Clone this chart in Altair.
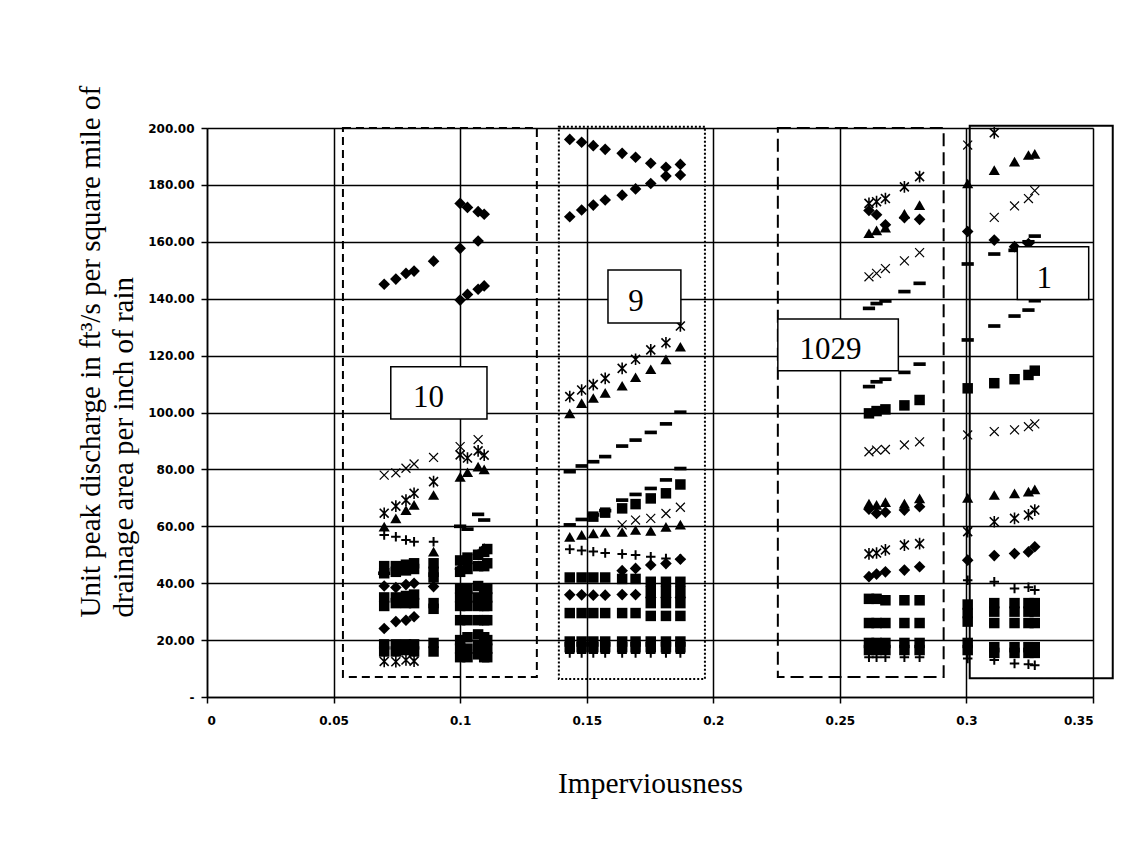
import altair as alt
import pandas as pd

# imperviousness positions of the sub-basin runs in each group
X10 = [0.07, 0.0746, 0.0786, 0.0818, 0.0895, 0.1, 0.1029, 0.1071, 0.1095, 0.1107]
X9 = [0.1433, 0.148, 0.1526, 0.1573, 0.164, 0.1693, 0.1753, 0.1813, 0.187]
X1029 = [0.2615, 0.2645, 0.268, 0.2755, 0.2815]
X1 = [0.3005, 0.311, 0.319, 0.3245, 0.327]

diamond_rows = [
    (X10[:6] + [X10[7]], [145.1, 146.9, 148.9, 149.7, 153.2, 157.7, 160.3]),
    (X10[5:9], [173.5, 172.1, 170.6, 169.7]),
    (X10[5:9], [139.5, 141.5, 143.3, 144.5]),
    (X10[:4], [24.1, 26.5, 27.0, 28.2]),
    (X10[:9], [39.0, 38.5, 39.5, 40.0, 38.8, 45.0, 47.0, 50.0, 52.0]),
    (X9, [196.0, 195.0, 193.8, 192.5, 191.1, 189.7, 187.6, 186.2, 187.2]),
    (X9, [168.8, 171.2, 172.9, 174.7, 176.4, 178.6, 180.5, 183.1, 183.5]),
    (X9[4:], [44.4, 45.2, 46.4, 46.9, 48.4]),
    (X9, [35.9, 35.9, 35.8, 35.8, 36.0, 36.0, 35.0, 35.0, 35.0]),
    (X1029, [171.0, 169.5, 166.0, 168.5, 167.9]),
    (X1029, [66.0, 64.5, 65.0, 65.7, 66.9]),
    (X1029, [42.3, 43.2, 44.0, 44.6, 45.8]),
    (X1[:4], [163.6, 160.6, 158.3, 159.4]),
    (X1, [48.1, 49.7, 50.4, 51.0, 52.8]),
]

square_rows = [
    (X10[:4], [46.0, 46.0, 46.5, 47.0]),
    (X10[:4], [43.5, 44.0, 44.5, 45.0]),
    (X10[:4], [35.0, 35.0, 35.5, 36.0]),
    (X10[:4], [32.0, 33.0, 33.0, 33.0]),
    (X10[:4], [18.5, 18.5, 18.5, 18.5]),
    (X10[:4], [16.0, 16.0, 16.5, 16.0]),
    ([X10[4]] * 7, [47.0, 44.0, 42.0, 33.0, 31.0, 19.0, 16.0]),
    (X10[5:], [48.0, 49.0, 50.0, 51.0, 52.0]),
    (X10[5:], [44.0, 45.0, 46.0, 46.0, 47.0]),
    (X10[5:], [38.0, 38.0, 39.0, 38.0, 38.0]),
    (X10[5:], [35.0, 35.0, 35.0, 35.0, 35.0]),
    (X10[5:], [32.0, 32.0, 32.0, 32.0, 32.0]),
    (X10[5:], [27.0, 27.0, 27.0, 27.0, 27.0]),
    (X10[5:], [20.0, 21.0, 22.0, 21.0, 20.0]),
    (X10[5:], [17.0, 17.0, 18.0, 17.0, 17.0]),
    (X10[5:], [14.0, 14.0, 15.0, 14.0, 14.0]),
    (X9[2:], [63.4, 64.8, 66.3, 67.8, 69.8, 71.6, 74.7]),
    (X9, [42.0, 42.0, 42.0, 42.0, 41.5, 41.5, 40.5, 40.5, 40.5]),
    (X9[6:], [37.0, 37.0, 37.0]),
    (X9[6:], [33.0, 33.0, 33.0]),
    (X9, [29.5, 29.5, 29.5, 29.5, 29.5, 29.5, 28.5, 28.5, 28.5]),
    (X9, [19.5, 19.5, 19.5, 19.5, 19.5, 19.5, 19.5, 19.5, 19.5]),
    (X9, [17.5, 17.5, 17.5, 17.5, 17.5, 17.5, 17.5, 17.5, 17.5]),
    (X1029, [99.7, 100.5, 101.1, 102.5, 104.4]),
    (X1029, [34.5, 34.5, 34.0, 34.0, 34.0]),
    (X1029, [26.0, 26.0, 26.0, 26.0, 26.0]),
    (X1029, [19.0, 19.0, 19.0, 19.0, 19.0]),
    (X1029, [16.5, 16.5, 16.5, 16.5, 16.5]),
    (X1, [108.5, 110.3, 111.7, 113.2, 114.7]),
    (X1, [32.5, 33.0, 33.0, 33.0, 33.0]),
    (X1, [29.5, 30.0, 30.0, 30.0, 30.0]),
    (X1, [26.5, 26.0, 26.0, 26.0, 26.0]),
    (X1, [19.0, 17.5, 17.5, 17.5, 17.5]),
    (X1, [16.5, 15.5, 15.5, 15.5, 15.5]),
]

triangle_rows = [
    (X10[:9], [59.9, 62.8, 65.7, 67.5, 71.0, 77.4, 79.0, 81.0, 80.0]),
    ([X10[4]], [51.1]),
    (X9, [99.7, 103.3, 105.1, 106.9, 109.4, 112.4, 115.2, 118.7, 123.1]),
    (X9, [56.3, 57.0, 57.5, 58.0, 58.0, 58.7, 58.4, 59.8, 60.6]),
    (X1029, [163.0, 164.0, 165.0, 169.8, 172.9]),
    (X1029, [68.0, 67.5, 68.5, 68.0, 69.8]),
    (X1, [180.5, 185.2, 188.2, 190.5, 190.9]),
    (X1, [70.0, 71.0, 71.6, 72.2, 73.0]),
]

cross_rows = [
    (X10[:6] + [X10[7]], [78.0, 78.8, 80.4, 81.9, 84.2, 88.0, 90.5]),
    (X9[4:], [60.5, 62.2, 62.8, 64.5, 66.7]),
    (X1029, [147.7, 148.9, 150.6, 153.3, 156.2]),
    (X1029, [86.2, 86.8, 87.0, 88.6, 89.7]),
    (X1, [194.0, 168.6, 172.6, 175.2, 178.0]),
    (X1, [92.1, 93.3, 93.9, 95.0, 96.0]),
]

star_rows = [
    (X10[:9], [64.6, 67.1, 69.2, 71.6, 75.7, 85.1, 84.0, 86.5, 85.0]),
    (X10[:4], [12.5, 12.4, 13.0, 12.6]),
    (X9, [105.6, 107.9, 109.8, 112.0, 115.5, 118.7, 122.0, 124.5, 130.4]),
    (X1029, [173.5, 174.1, 175.2, 179.3, 182.9]),
    (X1029, [50.3, 50.6, 51.7, 53.4, 53.9]),
    ([X1[1]], [198.3]),
    (X1, [58.1, 61.6, 62.8, 64.0, 65.7]),
]

plus_rows = [
    (X10[:5], [56.9, 56.3, 55.2, 54.6, 54.6]),
    (X9, [51.9, 51.5, 51.1, 50.6, 50.3, 49.9, 49.3, 48.7, 48.5]),
    (X9, [15.5, 15.5, 15.5, 15.5, 15.5, 15.5, 15.5, 15.5, 15.5]),
    (X1029, [14.0, 14.0, 14.0, 14.0, 14.0]),
    (X1, [41.0, 40.5, 38.1, 38.6, 37.6]),
    (X1, [13.5, 13.0, 11.8, 11.5, 11.2]),
]

dash_rows = [
    ([X10[0]], [43.5]),
    (X10[5:9], [60.0, 59.0, 64.2, 62.2]),
    (X9, [79.2, 81.2, 82.7, 84.5, 88.2, 90.3, 93.0, 96.0, 100.1]),
    (X9, [60.5, 62.4, 64.0, 65.5, 69.2, 71.2, 73.3, 76.3, 80.3]),
    (X1029, [136.6, 138.3, 139.2, 142.5, 145.4]),
    (X1029, [109.1, 110.8, 111.7, 114.1, 117.0]),
    (X1, [152.2, 155.7, 157.0, 160.0, 162.0]),
    (X1, [125.5, 130.4, 133.9, 136.0, 139.3]),
]

# group outline boxes
BOX_X1 = [0.0537, 0.139, 0.2255, 0.3013]
BOX_X2 = [0.1303, 0.1967, 0.291, 0.3578]
BOX_Y1 = [7.0, 6.3, 7.0, 6.6]
BOX_Y2 = [200.0, 200.4, 200.0, 200.8]
BOX_DASH = [[8, 5], [2, 2], [13, 6], [1, 0]]

# group label boxes
LABEL_TEXT = ["10", "9", "1029", "1"]
LABEL_X1 = [0.0726, 0.1584, 0.2255, 0.3201]
LABEL_X2 = [0.1106, 0.1872, 0.2731, 0.3483]
LABEL_Y1 = [97.7, 131.5, 114.7, 139.7]
LABEL_Y2 = [116.1, 150.1, 132.9, 158.3]
LABEL_TX = [0.0875, 0.1695, 0.2463, 0.3307]
LABEL_TY = [105.0, 138.9, 122.0, 147.1]

X_TICKS = [0, 0.05, 0.1, 0.15, 0.2, 0.25, 0.3, 0.35]
Y_TICKS = [0, 20, 40, 60, 80, 100, 120, 140, 160, 180, 200]

marker_rows = {
    "diamond": diamond_rows,
    "square": square_rows,
    "triangle": triangle_rows,
    "cross": cross_rows,
    "star": star_rows,
    "plus": plus_rows,
    "dash": dash_rows,
}
records = []
for name, rows in marker_rows.items():
    for xs, ys in rows:
        for xv, yv in zip(xs, ys):
            records.append({"x": xv, "y": yv, "marker": name})
df = pd.DataFrame(records)

xscale = alt.Scale(domain=[0, 0.35], nice=False, zero=False)
yscale = alt.Scale(domain=[0, 200], nice=False)

xaxis = alt.Axis(
    values=X_TICKS, format="~g", title="Imperviousness",
    titleFont="Liberation Serif", titleFontSize=29.5, titleFontWeight="normal",
    titleColor="black", titleY=86, titleBaseline="middle",
    labelFont="DejaVu Sans", labelFontWeight="bold", labelFontSize=12,
    labelColor="black", labelPadding=12, tickSize=6, tickColor="black",
    tickWidth=1.5, domainColor="black", domainWidth=1.5, grid=True,
    gridColor="black", gridWidth=1.5, gridOpacity=1,
)
yaxis = alt.Axis(
    values=Y_TICKS, labelExpr="datum.value == 0 ? '-' : format(datum.value, '.2f')",
    title=["Unit peak discharge in ft³/s per square mile of",
           "drainage area per inch of rain"],
    titleFont="Liberation Serif", titleFontSize=29, titleFontWeight="normal",
    titleColor="black", titleX=-117, titleY=489, titleAngle=-90,
    titleAlign="left", titleBaseline="middle", titleLineHeight=33,
    labelFont="DejaVu Sans", labelFontWeight="bold", labelFontSize=12,
    labelColor="black", labelPadding=7, tickSize=6, tickColor="black",
    tickWidth=1.5, domainColor="black", domainWidth=1.5, grid=True,
    gridColor="black", gridWidth=1.5, gridOpacity=1,
)

X = alt.X("x:Q", scale=xscale, axis=xaxis)
Y = alt.Y("y:Q", scale=yscale, axis=yaxis)

base = alt.Chart(df)

PATH_X = "M-1,-1L1,1M-1,1L1,-1"
PATH_STAR = "M-1,-1L1,1M-1,1L1,-1M0,-1.3L0,1.3"
PATH_PLUS = "M-1,0L1,0M0,-1L0,1"
PATH_DASH = "M-1,-0.3L1,-0.3L1,0.3L-1,0.3Z"

marker_styles = [
    ("square", dict(shape="square", filled=True, size=110)),
    ("diamond", dict(shape="diamond", filled=True, size=135)),
    ("triangle", dict(shape="triangle-up", filled=True, size=125)),
    ("dash", dict(shape=PATH_DASH, filled=True, size=150)),
    ("cross", dict(shape=PATH_X, filled=False, size=80, strokeWidth=1.2)),
    ("star", dict(shape=PATH_STAR, filled=False, size=80, strokeWidth=1.6)),
    ("plus", dict(shape=PATH_PLUS, filled=False, size=90, strokeWidth=2)),
]

layers = []
for name, style in marker_styles:
    layers.append(
        base.transform_filter(alt.datum.marker == name)
        .mark_point(color="black", opacity=1, **style)
        .encode(x=X, y=Y)
    )

for i in range(len(BOX_X1)):
    box_df = pd.DataFrame({"x": [BOX_X1[i]], "x2": [BOX_X2[i]],
                           "y": [BOX_Y1[i]], "y2": [BOX_Y2[i]]})
    layers.append(
        alt.Chart(box_df).mark_rect(
            fill=None, fillOpacity=0, stroke="black", strokeWidth=2,
            strokeDash=BOX_DASH[i], clip=False,
        ).encode(x=X, x2="x2:Q", y=Y, y2="y2:Q")
    )

label_df = pd.DataFrame({"x": LABEL_X1, "x2": LABEL_X2, "y": LABEL_Y1,
                         "y2": LABEL_Y2, "tx": LABEL_TX, "ty": LABEL_TY,
                         "label": LABEL_TEXT})
layers.append(
    alt.Chart(label_df).mark_rect(fill="white", stroke="black", strokeWidth=1.5)
    .encode(x=X, x2="x2:Q", y=Y, y2="y2:Q")
)
layers.append(
    alt.Chart(label_df).mark_text(font="Liberation Serif", fontSize=31,
                                  color="black", align="center", baseline="middle")
    .encode(x=alt.X("tx:Q", scale=xscale, axis=xaxis),
            y=alt.Y("ty:Q", scale=yscale, axis=yaxis), text="label:N")
)

chart = alt.layer(*layers).properties(
    width=886, height=569,
    autosize=alt.AutoSizeParams(type="none"),
    padding={"left": 199, "top": 120, "right": 28, "bottom": 130},
).configure_view(stroke="black", strokeWidth=1.5).configure(background="white")

chart.save("out.html", embed_options={"renderer": "svg", "actions": False})
